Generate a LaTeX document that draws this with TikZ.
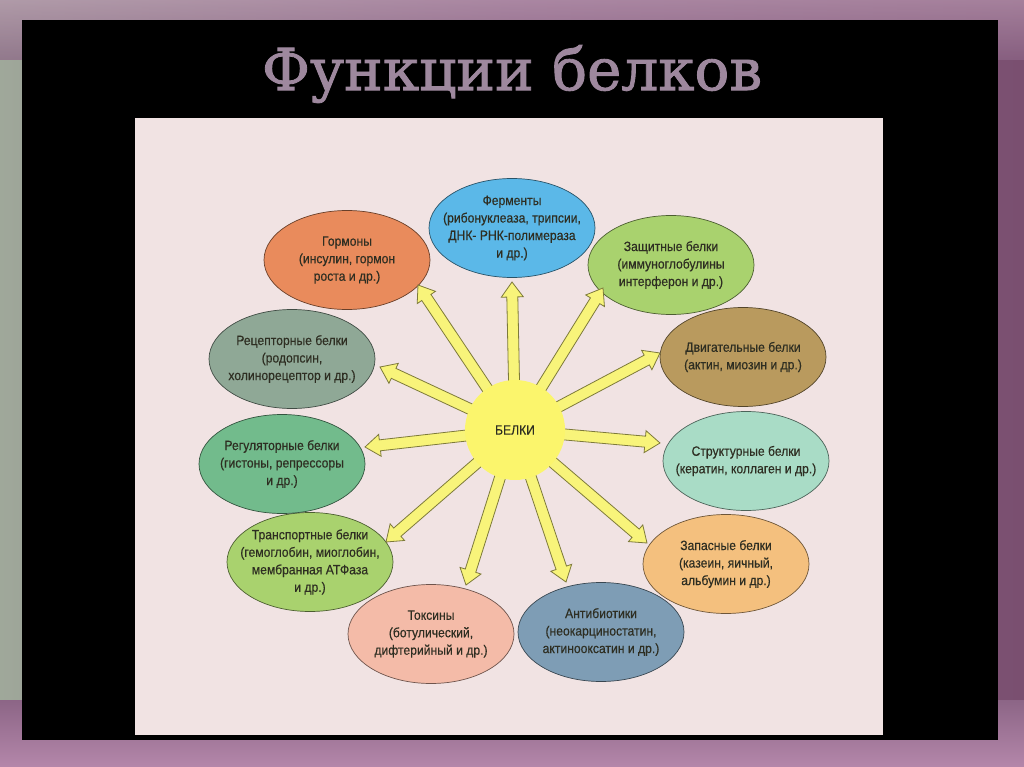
\documentclass[tikz,border=0pt]{standalone}
\usepackage{fontspec}
\setmainfont{Liberation Sans}
\newfontfamily\labfont[FakeStretch=0.9,FakeBold=0.4]{Liberation Sans}
\newfontfamily\titlefont[FakeBold=1.5]{DejaVu Serif}
\usetikzlibrary{calc,shapes.geometric}
\definecolor{panel}{HTML}{F1E3E3}
\definecolor{txt}{HTML}{2E2E22}
\definecolor{sun}{HTML}{FBF56C}
\definecolor{arrfill}{HTML}{F8F47A}
\definecolor{arrline}{HTML}{7D7A3A}
\definecolor{cgorm}{HTML}{E98B5C}
\definecolor{cferm}{HTML}{5BB8E8}
\definecolor{cgreen}{HTML}{A9D26E}
\definecolor{cdvig}{HTML}{B99A5E}
\definecolor{cstrukt}{HTML}{A9DCC6}
\definecolor{czapas}{HTML}{F4C07E}
\definecolor{canti}{HTML}{7E9DB5}
\definecolor{ctoks}{HTML}{F4BBA8}
\definecolor{creg}{HTML}{72BB8C}
\definecolor{crec}{HTML}{8FA896}
\definecolor{ttlcol}{HTML}{9E889E}
\definecolor{bgA}{HTML}{9FA89A}
\definecolor{bgB}{HTML}{8C6586}
\definecolor{bgC}{HTML}{7A4F70}
\definecolor{bgD}{HTML}{B795AE}
\definecolor{bgE}{HTML}{B487AA}
\tikzset{
  fn/.style={ellipse, draw=#1!45!black, fill=#1, line width=0.7pt,
    minimum width=166pt, minimum height=99pt, inner xsep=-14pt, inner ysep=-10pt, align=center,
    font=\labfont\fontsize{13.5}{17.5}\selectfont, text=txt},
  fatarr/.style={fill=arrfill, draw=arrline, line width=0.8pt, line join=miter}
}
\newcommand{\myarrow}[2]{%
  \path ($(#2)!15pt!(#1)$) coordinate (tmpb);
  \draw[fatarr] ($(#1)!5.5pt!90:(#2)$) -- ($(tmpb)!5.5pt!-90:(#1)$) -- ($(tmpb)!11pt!-90:(#1)$)
    -- (#2) -- ($(tmpb)!11pt!90:(#1)$) -- ($(tmpb)!5.5pt!90:(#1)$) -- ($(#1)!5.5pt!-90:(#2)$) -- cycle;}
\begin{document}
\begin{tikzpicture}[x=1pt,y=-1pt]
\useasboundingbox (0,0) rectangle (1024,767);
% outer blurred background
\shade[left color=bgA, right color=bgC, middle color=bgB] (0,0) rectangle (1024,767);
\shade[top color=bgD, bottom color=bgB, opacity=0.7] (0,0) rectangle (1024,60);
\shade[top color=bgB, bottom color=bgE] (0,700) rectangle (1024,767);
% black frame
\fill[black] (22,20) rectangle (998,740);
% title
\node[font=\titlefont\fontsize{58}{60}\selectfont, text=ttlcol] (title) at (512,74) {Функции белков};
% panel
\fill[panel] (135,118) rectangle (883,735);
% ellipses
\node[fn=cgorm]   (gorm)   at (347,260) {Гормоны\\(инсулин, гормон\\роста и др.)};
\node[fn=cferm]   (ferm)   at (512,228) {Ферменты\\(рибонуклеаза, трипсии,\\ДНК- РНК-полимераза\\и др.)};
\node[fn=cgreen]  (zasch)  at (671,265) {Защитные белки\\(иммуноглобулины\\интерферон и др.)};
\node[fn=cdvig]   (dvig)   at (743,357) {Двигательные белки\\(актин, миозин и др.)};
\node[fn=cstrukt] (strukt) at (746,461) {Структурные белки\\(кератин, коллаген и др.)};
\node[fn=czapas]  (zapas)  at (726,564) {Запасные белки\\(казеин, яичный,\\альбумин и др.)};
\node[fn=canti]   (anti)   at (601,632) {Антибиотики\\(неокарциностатин,\\актинооксатин и др.)};
\node[fn=ctoks]   (toks)   at (431,634) {Токсины\\(ботулический,\\дифтерийный и др.)};
\node[fn=cgreen]  (trans)  at (310,562) {Транспортные белки\\(гемоглобин, миоглобин,\\мембранная АТФаза\\и др.)};
\node[fn=creg]    (reg)    at (282,464) {Регуляторные белки\\(гистоны, репрессоры\\и др.)};
\node[fn=crec]    (rec)    at (292,359) {Рецепторные белки\\(родопсин,\\холинорецептор и др.)};
% arrow tips
\coordinate (cc) at (515,430);
\coordinate (t1) at (418,285);
\coordinate (t2) at (512,282);
\coordinate (t3) at (603,288);
\coordinate (t4) at (660,353);
\coordinate (t5) at (660,443);
\coordinate (t6) at (647,543);
\coordinate (t7) at (566,582);
\coordinate (t8) at (466,585);
\coordinate (t9) at (386,542);
\coordinate (t10) at (365,447);
\coordinate (t11) at (380,367);
\foreach \t in {t1,t2,t3,t4,t5,t6,t7,t8,t9,t10,t11} {\myarrow{cc}{\t}}
% centre
\node[circle, fill=sun, minimum size=100pt, inner sep=0pt, text=txt,
  font=\labfont\fontsize{13.5}{16}\selectfont] (belki) at (cc) {БЕЛКИ};
\end{tikzpicture}
\end{document}
